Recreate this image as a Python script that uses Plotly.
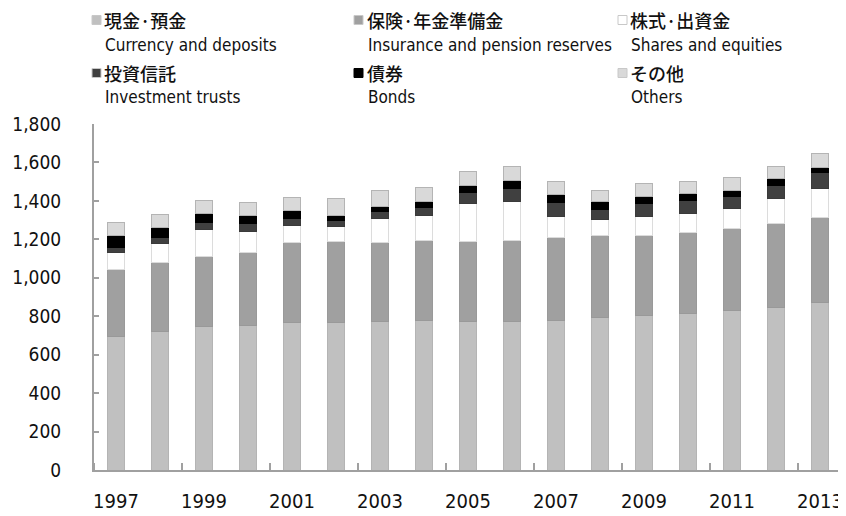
import plotly.graph_objects as go

years = list(range(1997, 2014))

currency = [693, 723, 744, 751, 765, 765, 770, 777, 772, 773, 780, 792, 803, 813, 831, 844, 872]
insurance = [351, 359, 369, 378, 421, 423, 416, 416, 416, 423, 428, 427, 419, 420, 424, 436, 442]
shares = [86, 97, 137, 111, 88, 78, 120, 132, 196, 200, 113, 83, 99, 104, 108, 130, 151]
inv_trusts = [28, 28, 36, 40, 33, 31, 38, 39, 58, 67, 71, 52, 64, 66, 62, 72, 82]
bonds = [61, 53, 49, 43, 42, 29, 29, 35, 37, 44, 42, 42, 39, 36, 31, 32, 25]
others = [69, 70, 68, 71, 69, 84, 82, 71, 74, 73, 66, 59, 67, 63, 66, 66, 75]

names_jp = ["現金·預金", "保険·年金準備金", "株式·出資金", "投資信託", "債券", "その他"]
names_en = ["Currency and deposits", "Insurance and pension reserves", "Shares and equities",
            "Investment trusts", "Bonds", "Others"]
series = [currency, insurance, shares, inv_trusts, bonds, others]
colors = ["#c0c0c0", "#a0a0a0", "#ffffff", "#404040", "#000000", "#d9d9d9"]
edges = ["#b4b4b4", "#999999", "#dcdcdc", "#3a3a3a", "#000000", "#b4b4b4"]

y_ticks = list(range(0, 1801, 200))
x_labels = list(range(1997, 2014, 2))
x_marks = [y - 0.5 for y in range(1997, 2014, 2)]

NARROW = "DejaVu Sans Condensed, Liberation Sans Narrow, Arial Narrow, sans-serif"
JP = "Noto Sans CJK JP, sans-serif"

# page body has an 8px margin, so the figure is drawn 8px in from the window corner
OFF = 8
FW, FH = 846 - OFF, 516 - OFF

fig = go.Figure()
for vals, name, col, edge in zip(series, names_en, colors, edges):
    fig.add_trace(go.Bar(x=years, y=vals, name=name, width=0.39,
                         marker=dict(color=col, line=dict(color=edge, width=1))))

# plot area in window pixels: x 94..842, y 124..470
L, R, T, B = 94 - OFF, 842 - OFF, 124 - OFF, 470 - OFF
W, H = R - L, B - T

def px(x):
    return (x - OFF - L) / W

def py(y):
    return (B - (y - OFF)) / H

legend_cols = [(92, 105), (354, 368), (618, 631)]
legend_rows = [(20, 45), (73, 97)]
for i, (jp, en, col, edge) in enumerate(zip(names_jp, names_en, colors, edges)):
    mx, tx = legend_cols[i % 3]
    jy, ey = legend_rows[i // 3]
    fig.add_shape(type="rect", xref="paper", yref="paper",
                  x0=px(mx), x1=px(mx + 9), y0=py(jy + 4.5), y1=py(jy - 4.5),
                  fillcolor=col, line=dict(color="#c8c8c8" if col != "#000000" else "#000000", width=1))
    fig.add_annotation(x=px(tx - 2), y=py(jy), xref="paper", yref="paper", text=jp, showarrow=False,
                       xanchor="left", yanchor="middle", borderpad=0,
                       font=dict(family=JP, size=18, color="#111111", weight=500))
    fig.add_annotation(x=px(tx - 2), y=py(ey), xref="paper", yref="paper", text=en, showarrow=False,
                       xanchor="left", yanchor="middle", font=dict(family=NARROW, size=17, color="#111111"))

fig.update_layout(
    width=FW, height=FH, barmode="stack", showlegend=False,
    plot_bgcolor="white", paper_bgcolor="white",
    margin=dict(l=L, r=FW - R, t=T, b=FH - B),
    font=dict(family=NARROW, color="#111111"),
)
fig.update_xaxes(range=[1996.5, 2013.5], tickmode="array", tickvals=x_labels,
                 ticktext=[str(v) for v in x_labels], ticks="", showgrid=False,
                 showline=True, linecolor="#a0a0a0", linewidth=2, automargin=False,
                 tickfont=dict(size=20), ticklabelstandoff=12, ticklabeloverflow="allow",
                 minor=dict(tickmode="array", tickvals=x_marks, ticks="inside",
                            ticklen=7, tickcolor="#a0a0a0", tickwidth=1.5, showgrid=False))
fig.update_yaxes(range=[0, 1800], tickmode="array", tickvals=y_ticks, tickformat=",d",
                 ticks="inside", ticklen=5, tickcolor="#a0a0a0", tickwidth=1.5,
                 showgrid=False, showline=True, linecolor="#a0a0a0", linewidth=2,
                 zeroline=False, automargin=False, tickfont=dict(size=19), ticklabelstandoff=27)

fig.write_html("out.html")
